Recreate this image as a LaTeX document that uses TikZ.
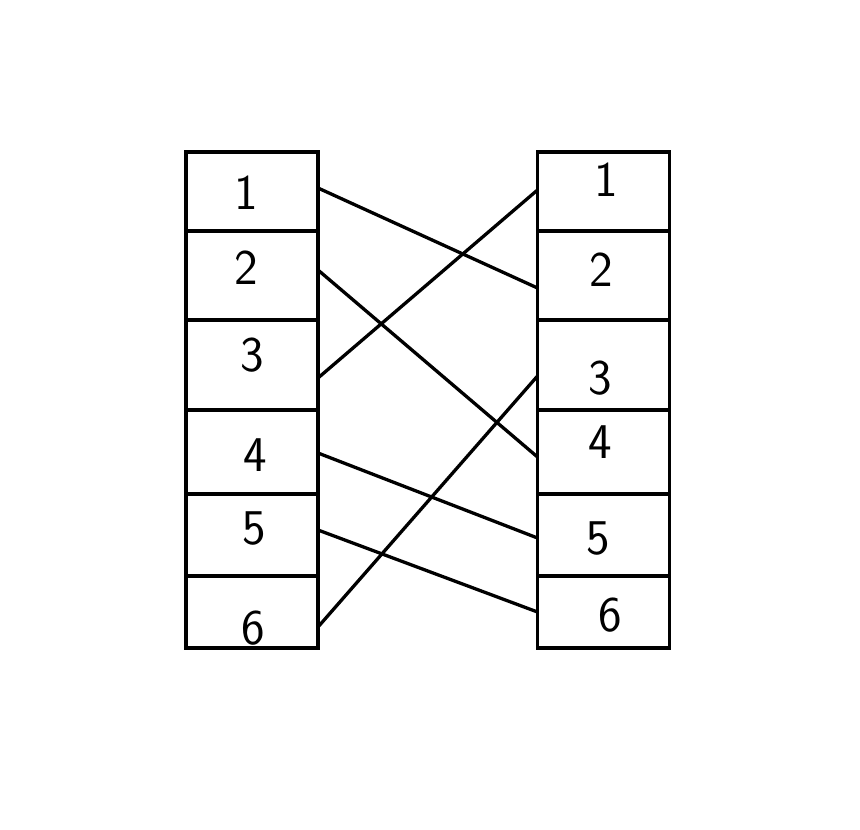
\documentclass[tikz,border=0pt]{standalone}
\usetikzlibrary{calc}
\begin{document}
\begin{tikzpicture}[x=1pt,y=-1pt,
  cell/.style={draw,line width=3.3pt,minimum width=132pt,inner sep=0pt,outer sep=0pt},
  digit/.style={font=\sffamily\fontsize{50}{50}\selectfont,inner sep=0pt},
  link/.style={line width=3.3pt}]
\useasboundingbox (0,0) rectangle (860,830);
% left column
\node[cell,minimum height=79pt] (L1) at (252,191.5) {};
\node[cell,minimum height=89pt] (L2) at (252,275.5) {};
\node[cell,minimum height=90pt] (L3) at (252,365) {};
\node[cell,minimum height=84pt] (L4) at (252,452) {};
\node[cell,minimum height=82pt] (L5) at (252,535) {};
\node[cell,minimum height=72pt] (L6) at (252,612) {};
% right column
\node[cell,minimum height=79pt] (R1) at (603.5,191.5) {};
\node[cell,minimum height=89pt] (R2) at (603.5,275.5) {};
\node[cell,minimum height=90pt] (R3) at (603.5,365) {};
\node[cell,minimum height=84pt] (R4) at (603.5,452) {};
\node[cell,minimum height=82pt] (R5) at (603.5,535) {};
\node[cell,minimum height=72pt] (R6) at (603.5,612) {};
% digits
\node[digit] (l1) at (246,193) {1};
\node[digit] (l2) at (246,268) {2};
\node[digit] (l3) at (252,355) {3};
\node[digit] (l4) at (255,455) {4};
\node[digit] (l5) at (254,528) {5};
\node[digit] (l6) at (253,628) {6};
\node[digit] (r1) at (606,180) {1};
\node[digit] (r2) at (601,270) {2};
\node[digit] (r3) at (600,378) {3};
\node[digit] (r4) at (600,442) {4};
\node[digit] (r5) at (598,538) {5};
\node[digit] (r6) at (610,615) {6};
% connectors
\draw[link] ([yshift=3.5pt]L1.east) -- ([yshift=-12.5pt]R2.west);
\draw[link] ([yshift=5.5pt]L2.east) -- ([yshift=-5pt]R4.west);
\draw[link] ([yshift=-13pt]L3.east) -- ([yshift=1.5pt]R1.west);
\draw[link] ([yshift=-1pt]L4.east) -- ([yshift=-3pt]R5.west);
\draw[link] ([yshift=5pt]L5.east) -- (R6.west);
\draw[link] ([yshift=-15pt]L6.east) -- ([yshift=-11pt]R3.west);
\end{tikzpicture}
\end{document}
